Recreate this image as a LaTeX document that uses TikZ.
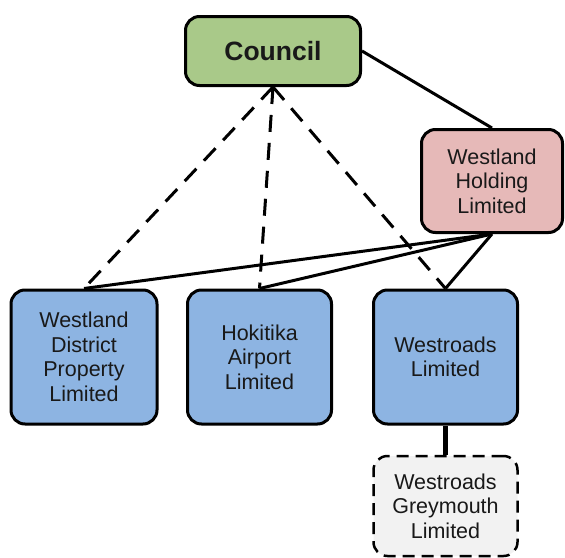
\documentclass[tikz,border=0pt]{standalone}
\usepackage{fontspec}
\setmainfont{Liberation Sans}
\definecolor{cgreen}{RGB}{169,201,137}
\definecolor{cpink}{RGB}{230,185,184}
\definecolor{cblue}{RGB}{141,180,226}
\definecolor{cgray}{RGB}{242,242,242}
\tikzset{
  box/.style={draw=black, line width=3pt, rounded corners=14pt, align=center, inner sep=0pt,
    font=\fontsize{21.5}{24.5}\selectfont, text=black!90},
  solidline/.style={line width=3pt},
  dashline/.style={line width=3pt, dash pattern=on 17pt off 11pt},
}
\begin{document}
\begin{tikzpicture}[x=1pt,y=-1pt]
\useasboundingbox (0,0) rectangle (565,557);
\node[box, fill=cgreen, minimum width=175pt, minimum height=69pt, font=\fontsize{26.5}{30}\selectfont\bfseries] (council) at (273,51) {Council};
\node[box, fill=cpink, minimum width=141pt, minimum height=103pt] (whl) at (492,181) {Westland\\Holding\\Limited};
\node[box, fill=cblue, minimum width=146pt, minimum height=134pt] (wdp) at (84,357) {Westland\\District\\Property\\Limited};
\node[box, fill=cblue, minimum width=144pt, minimum height=134pt] (hok) at (259.5,357) {Hokitika\\Airport\\Limited};
\node[box, fill=cblue, minimum width=144pt, minimum height=134pt] (wr) at (445.5,357) {Westroads\\Limited};
\node[box, fill=cgray, dash pattern=on 12pt off 7pt, line width=2.5pt, minimum width=144pt, minimum height=100pt] (gm) at (445.5,506) {Westroads\\Greymouth\\Limited};
\draw[solidline] (council.east) -- (whl.north);
\draw[dashline] (council.south) -- (wdp.north);
\draw[dashline] (council.south) -- (hok.north);
\draw[dashline] (council.south) -- (wr.north);
\draw[solidline] (whl.south) -- (wdp.north);
\draw[solidline] (whl.south) -- (hok.north);
\draw[solidline] (whl.south) -- (wr.north);
\draw[line width=5pt] (wr.south) -- (gm.north);
\end{tikzpicture}
\end{document}
